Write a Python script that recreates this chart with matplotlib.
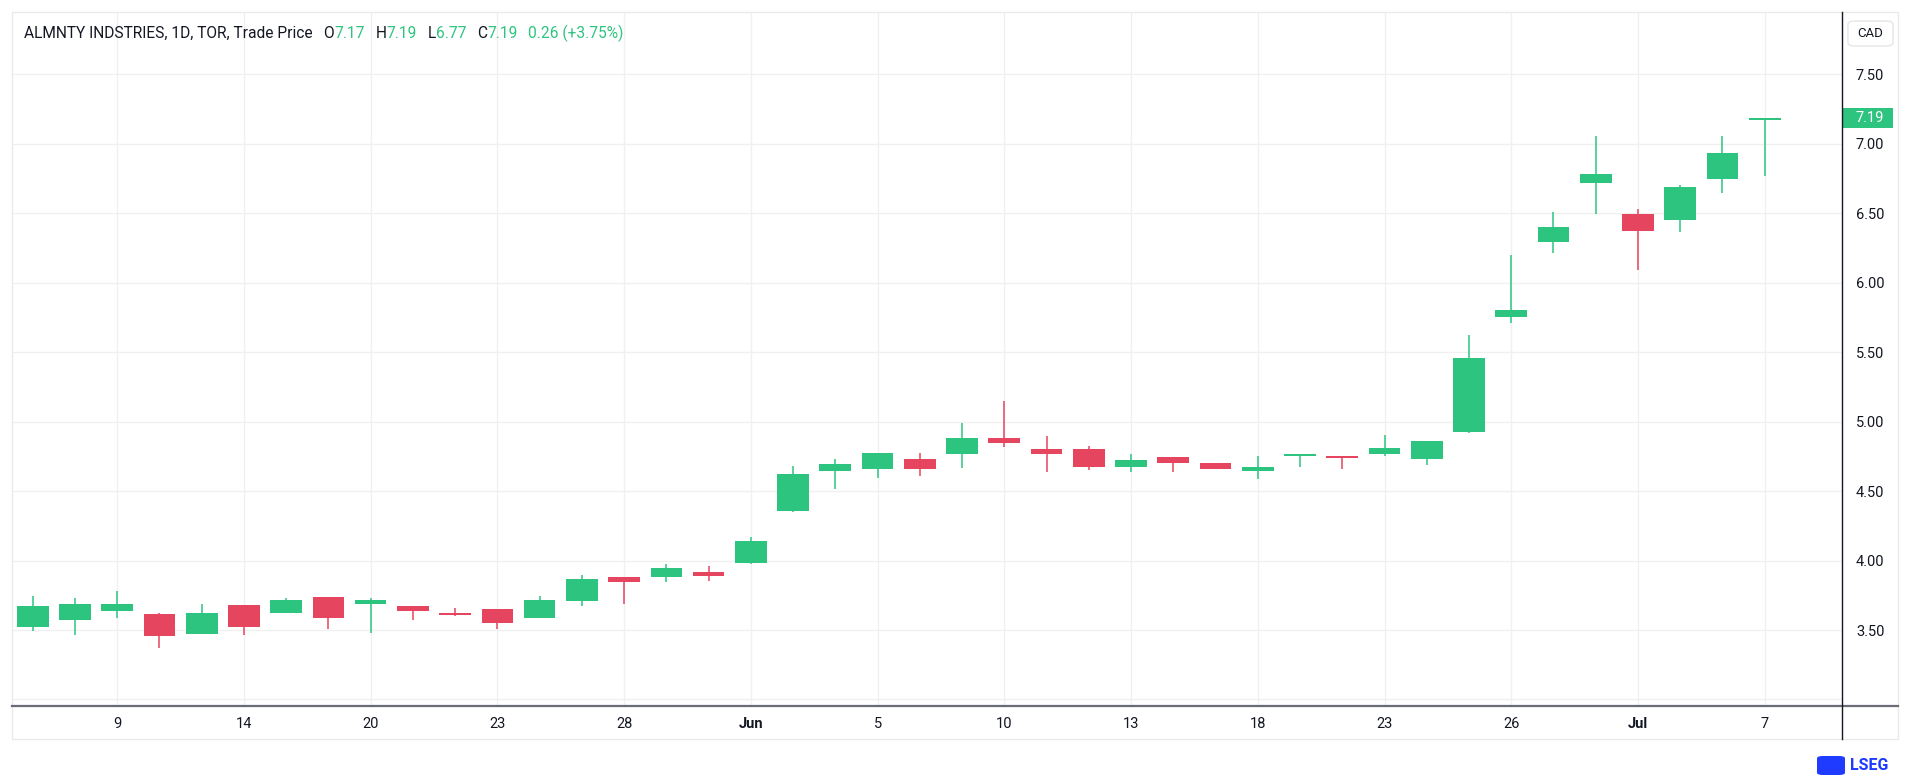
import matplotlib
matplotlib.use("Agg")
import matplotlib.pyplot as plt
from matplotlib.patches import Rectangle, FancyBboxPatch
from matplotlib.lines import Line2D
import matplotlib.transforms as mtransforms

# ---------------- data ----------------
opens = [3.52, 3.575, 3.64, 3.615, 3.47, 3.68, 3.62, 3.735, 3.685, 3.675,
         3.625, 3.65, 3.59, 3.71, 3.883, 3.88, 3.92, 3.983, 4.36, 4.644,
         4.66, 4.728, 4.767, 4.88, 4.80, 4.80, 4.674, 4.744, 4.706, 4.644,
         4.752, 4.745, 4.765, 4.735, 4.929, 5.752, 6.292, 6.72, 6.499, 6.451,
         6.749, 7.17]
highs = [3.745, 3.73, 3.78, 3.625, 3.69, 3.68, 3.73, 3.735, 3.73, 3.675,
         3.66, 3.65, 3.745, 3.895, 3.883, 3.975, 3.962, 4.168, 4.68, 4.728,
         4.772, 4.772, 4.988, 5.15, 4.894, 4.822, 4.768, 4.744, 4.706, 4.753,
         4.757, 4.756, 4.906, 4.862, 5.626, 6.198, 6.513, 7.055, 6.528, 6.706,
         7.055, 7.19]
lows = [3.49, 3.465, 3.585, 3.37, 3.47, 3.465, 3.62, 3.51, 3.48, 3.57,
        3.60, 3.51, 3.585, 3.675, 3.69, 3.845, 3.85, 3.976, 4.353, 4.517,
        4.594, 4.608, 4.666, 4.817, 4.637, 4.651, 4.635, 4.635, 4.659, 4.591,
        4.676, 4.662, 4.756, 4.691, 4.921, 5.714, 6.212, 6.499, 6.094, 6.364,
        6.648, 6.77]
closes = [3.675, 3.69, 3.69, 3.46, 3.625, 3.52, 3.715, 3.59, 3.715, 3.64,
          3.605, 3.55, 3.715, 3.865, 3.847, 3.947, 3.892, 4.142, 4.625, 4.695,
          4.772, 4.659, 4.88, 4.846, 4.767, 4.673, 4.726, 4.703, 4.659, 4.676,
          4.757, 4.741, 4.812, 4.862, 5.459, 5.806, 6.404, 6.783, 6.371, 6.691,
          6.932, 7.19]

tick_pos = [2, 5, 8, 11, 14, 17, 20, 23, 26, 29, 32, 35, 38, 41]
tick_labels = ["9", "14", "20", "23", "28", "Jun", "5", "10", "13", "18",
               "23", "26", "Jul", "7"]
price_ticks = [3.0, 3.5, 4.0, 4.5, 5.0, 5.5, 6.0, 6.5, 7.0, 7.5]

title_name = "ALMNTY INDSTRIES, 1D, TOR, Trade Price"
last_o, last_h, last_l, last_c = "7.17", "7.19", "6.77", "7.19"
last_chg = "0.26 (+3.75%)"
last_price = 7.19
currency = "CAD"

# ---------------- style ----------------
UP = "#2DC47F"
DOWN = "#E5455F"
TXT = "#131722"
GRID = "#F0F0F0"
FONT = ["Roboto", "DejaVu Sans"]
plt.rcParams["font.family"] = FONT

W, H = 1918, 778
fig = plt.figure(figsize=(W / 100, H / 100), dpi=100)
fig.patch.set_facecolor("white")


def fx(px):
    return px / W


def fy(py):
    return 1 - py / H


ax = fig.add_axes([fx(12), fy(706), fx(1842) - fx(12), fy(12) - fy(706)])
ax.set_facecolor("white")

n = len(opens)
xs = list(range(n))
colors = [UP if c >= o else DOWN for o, c in zip(opens, closes)]
bottoms = [min(o, c) for o, c in zip(opens, closes)]
heights = [max(abs(c - o), 0.012) for o, c in zip(opens, closes)]

ax.vlines(xs, lows, highs, colors=colors, linewidth=1.1, zorder=2)
ax.bar(xs, heights, bottom=bottoms, width=0.75, color=colors,
       edgecolor="none", zorder=3)

ax.set_xlim(-0.49, 42.83)
ax.set_ylim(2.953, 7.95)

ax.set_xticks(tick_pos)
ax.set_xticklabels(tick_labels)
ax.set_yticks(price_ticks)
ax.set_yticklabels(["" if p == 3.0 else f"{p:.2f}" for p in price_ticks])
ax.yaxis.tick_right()
ax.tick_params(axis="x", length=0, pad=8, labelsize=10.5, colors=TXT)
ax.tick_params(axis="y", length=0, pad=10, labelsize=10.5, colors=TXT)
for lab in ax.get_xticklabels():
    if lab.get_text() in ("Jun", "Jul"):
        lab.set_fontweight("bold")

ax.grid(True, color=GRID, linewidth=1.0, zorder=0)
ax.set_axisbelow(True)
for s in ax.spines.values():
    s.set_visible(False)

# outer frame and axis lines
fig.add_artist(Rectangle((fx(12), fy(739)), fx(1898) - fx(12), fy(12) - fy(739),
                         transform=fig.transFigure, fill=False,
                         edgecolor="#EAEAEA", linewidth=1.0))
fig.add_artist(Line2D([fx(12), fx(1898)], [fy(706), fy(706)],
                      transform=fig.transFigure, color="#6A6D78", linewidth=1.6))
fig.add_artist(Line2D([fx(1842), fx(1842)], [fy(12), fy(739)],
                      transform=fig.transFigure, color="#131722", linewidth=1.0))

# current price label
blend = mtransforms.blended_transform_factory(ax.transAxes, ax.transData)
box_h = 20 / 138.8
ax.add_patch(Rectangle((1.0, last_price - box_h / 2), 51 / 1830, box_h,
                       transform=blend, facecolor=UP, edgecolor="none",
                       clip_on=False, zorder=5))
ax.text(1.0 + 14 / 1830, last_price, f"{last_price:.2f}", transform=blend,
        color="white", fontsize=10.5, va="center", ha="left", zorder=6,
        clip_on=False)

# currency box
fig.add_artist(FancyBboxPatch((fx(1848), fy(46)), fx(1893) - fx(1848),
                              fy(21) - fy(46),
                              boxstyle="round,pad=0,rounding_size=0.004",
                              transform=fig.transFigure, facecolor="white",
                              edgecolor="#E6E6E6", linewidth=1.0))
fig.text(fx(1870.5), fy(33.5), currency, fontsize=9.5, color=TXT,
         ha="center", va="center")

# legend / title line
renderer = fig.canvas.get_renderer()
pieces = [(title_name, TXT, 0), ("O", TXT, 11), (last_o, UP, 0),
          ("H", TXT, 11), (last_h, UP, 0), ("L", TXT, 11), (last_l, UP, 0),
          ("C", TXT, 11), (last_c, UP, 0), (last_chg, UP, 10)]
xpix = 24
for txt, col, gap in pieces:
    xpix += gap
    t = fig.text(fx(xpix), fy(33.5), txt, fontsize=11.2, color=col,
                 ha="left", va="center")
    bb = t.get_window_extent(renderer)
    xpix = bb.x1

# LSEG logo
fig.add_artist(FancyBboxPatch((fx(1817), fy(775)), fx(1845) - fx(1817),
                              fy(756) - fy(775),
                              boxstyle="round,pad=0,rounding_size=0.003",
                              transform=fig.transFigure, facecolor="#1F3BFF",
                              edgecolor="none"))
fig.text(fx(1850), fy(766), "LSEG", fontsize=11.5, fontweight="bold",
         color="#1F3BFF", ha="left", va="center")

fig.savefig("out.png", dpi=100, facecolor="white")
